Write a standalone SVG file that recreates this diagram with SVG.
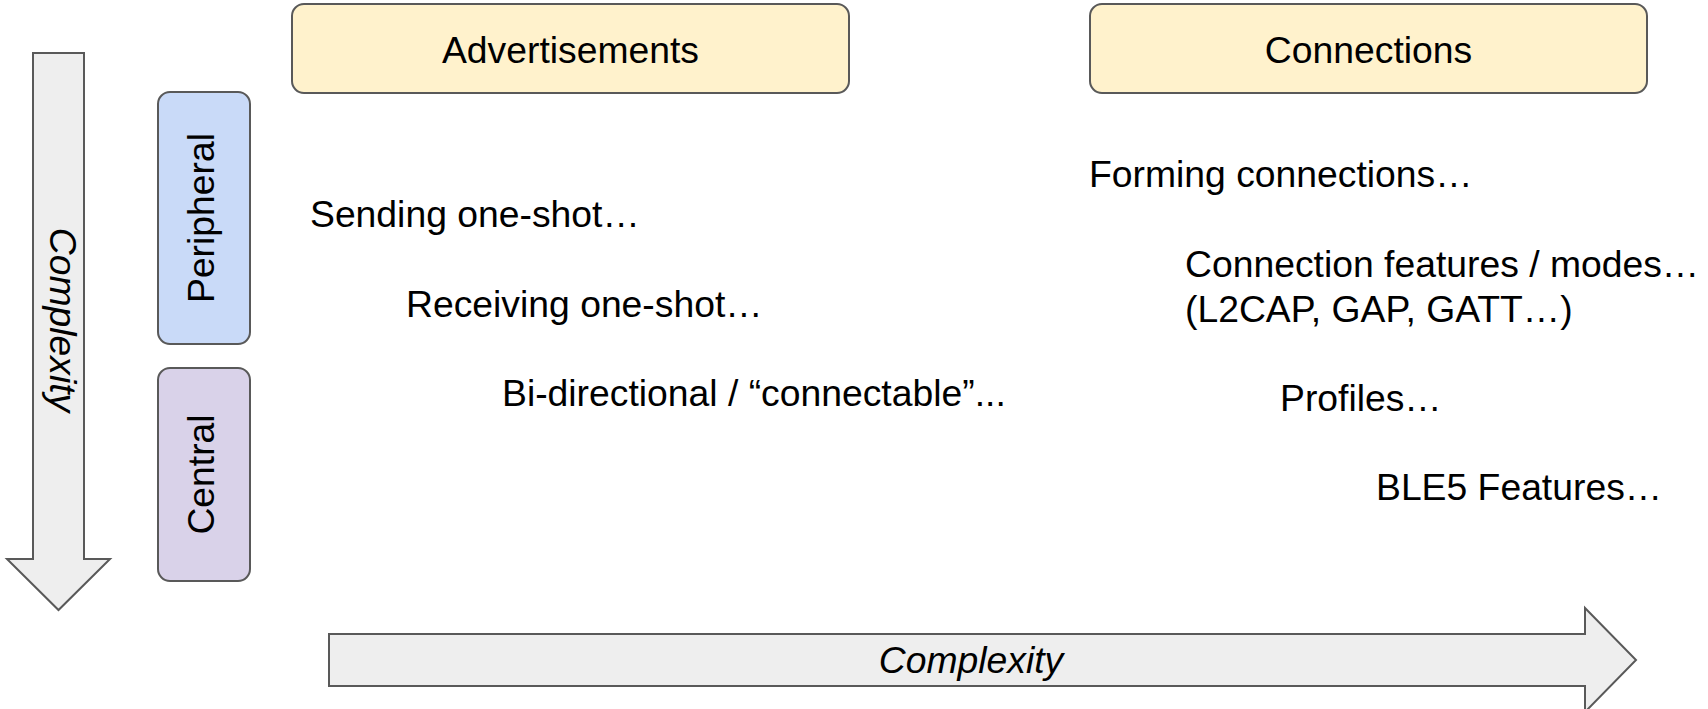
<svg xmlns="http://www.w3.org/2000/svg" width="1708" height="709" viewBox="0 0 1708 709">
  <style>
    .lbl { font-family: "Liberation Sans", Arial, sans-serif; font-size: 37.3px; fill: #000000; }
    .it { font-style: italic; }
    .mid { text-anchor: middle; }
    .hdr { fill: #fff2cc; stroke: #595959; stroke-width: 2; }
    .per { fill: #c9daf8; stroke: #595959; stroke-width: 2; }
    .cen { fill: #d9d2e9; stroke: #595959; stroke-width: 2; }
    .arr { fill: #eeeeee; stroke: #595959; stroke-width: 2; stroke-linejoin: miter; }
  </style>
  <rect width="1708" height="709" fill="#ffffff"/>

  <!-- complexity axes -->
  <g id="connectors">
    <g id="axis-vertical">
      <path class="arr" d="M33 53 H84 V559 H110 L58.5 610 L7 559 H33 Z"/>
      <text class="lbl it mid" transform="translate(50,320) rotate(90)">Complexity</text>
    </g>
    <g id="axis-horizontal">
      <path class="arr" d="M329 634 H1585 V608 L1636 660 L1585 712 V686 H329 Z"/>
      <text class="lbl it mid" x="971" y="673">Complexity</text>
    </g>
  </g>

  <!-- role labels -->
  <g id="peripheral">
    <rect class="per" x="158" y="92" width="92" height="252" rx="12" ry="12"/>
    <text class="lbl mid" transform="translate(214,218) rotate(-90)">Peripheral</text>
  </g>
  <g id="central">
    <rect class="cen" x="158" y="368" width="92" height="213" rx="12" ry="12"/>
    <text class="lbl mid" transform="translate(214,474.5) rotate(-90)">Central</text>
  </g>

  <!-- column headers -->
  <g id="advertisements">
    <rect class="hdr" x="292" y="4" width="557" height="89" rx="12" ry="12"/>
    <text class="lbl mid" x="570.5" y="63">Advertisements</text>
  </g>
  <g id="connections">
    <rect class="hdr" x="1090" y="4" width="557" height="89" rx="12" ry="12"/>
    <text class="lbl mid" x="1368.5" y="63">Connections</text>
  </g>

  <!-- advertisement topics -->
  <g id="adv-topics">
    <text class="lbl" x="310" y="227">Sending one-shot…</text>
    <text class="lbl" x="406" y="317">Receiving one-shot…</text>
    <text class="lbl" x="502" y="406">Bi-directional / “connectable”...</text>
  </g>

  <!-- connection topics -->
  <g id="conn-topics">
    <text class="lbl" x="1089" y="187">Forming connections…</text>
    <text class="lbl" x="1185" y="277">Connection features / modes…</text>
    <text class="lbl" x="1185" y="322">(L2CAP, GAP, GATT…)</text>
    <text class="lbl" x="1280" y="411">Profiles…</text>
    <text class="lbl" x="1376" y="500">BLE5 Features…</text>
  </g>
</svg>
